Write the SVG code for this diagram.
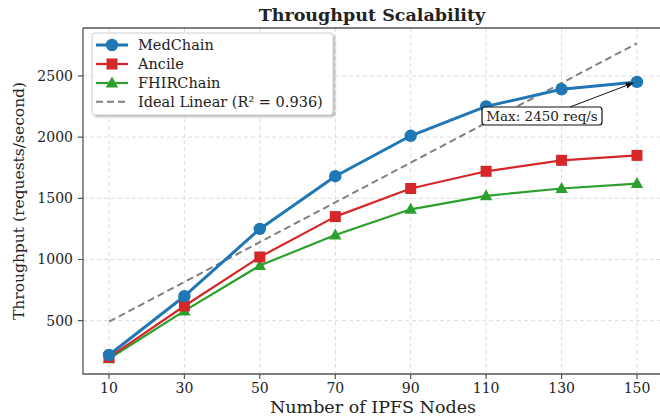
<svg xmlns="http://www.w3.org/2000/svg" width="660" height="417" viewBox="0 0 660 417">
<defs>
<style>
text{font-family:"DejaVu Serif","Liberation Serif",serif;fill:#222}
.grid{stroke:#dcdcdc;stroke-width:1;stroke-dasharray:4,3;fill:none}
.spine{stroke:#555;stroke-width:1.3;fill:none}
.tick{stroke:#555;stroke-width:1.2}
.tl{font-size:14px}
.med{stroke:#1f77b4;stroke-width:3;fill:none;stroke-linejoin:round}
.anc{stroke:#d62728;stroke-width:2.2;fill:none;stroke-linejoin:round}
.fhir{stroke:#2ca02c;stroke-width:2.2;fill:none;stroke-linejoin:round}
.ideal{stroke:#808080;stroke-width:2;stroke-dasharray:7,4;fill:none}
.lg{font-size:14.5px}
</style>
<circle id="mc" r="6.2" fill="#1f77b4"/>
<rect id="ms" x="-5.5" y="-5.5" width="11" height="11" fill="#d62728"/>
<polygon id="mt" points="0,-6.5 6.2,4.5 -6.2,4.5" fill="#2ca02c"/>
<marker id="arr" viewBox="0 0 10 10" refX="9" refY="5" markerWidth="8" markerHeight="8" markerUnits="userSpaceOnUse" orient="auto">
<path d="M0,1 L10,5 L0,9 z" fill="#111"/>
</marker>
<filter id="sh" x="-10%" y="-10%" width="130%" height="140%"><feGaussianBlur stdDeviation="0.8"/></filter>
</defs>
<rect width="660" height="417" fill="#fff"/>
<g id="title"><text x="372" y="21" font-size="17.5" font-weight="bold" text-anchor="middle" fill="#111">Throughput Scalability</text></g>
<g id="grid">
<path class="grid" d="M109,28V374M184.4,28V374M259.8,28V374M335.3,28V374M410.7,28V374M486.1,28V374M561.6,28V374M637,28V374"/>
<path class="grid" d="M83,320.7H660M83,259.5H660M83,198.3H660M83,137.1H660M83,75.9H660"/>
</g>
<g id="axes">
<path class="spine" d="M83,28V374H660M83,28H660"/>
<path class="tick" d="M78,320.7H83M78,259.5H83M78,198.3H83M78,137.1H83M78,75.9H83"/>
<path class="tick" d="M109,374v5M184.4,374v5M259.8,374v5M335.3,374v5M410.7,374v5M486.1,374v5M561.6,374v5M637,374v5"/>
<g class="tl" text-anchor="end">
<text x="73" y="325.5">500</text><text x="73" y="264.3">1000</text><text x="73" y="203.1">1500</text><text x="73" y="141.9">2000</text><text x="73" y="80.7">2500</text>
</g>
<g class="tl" text-anchor="middle">
<text x="109" y="393">10</text><text x="184.4" y="393">30</text><text x="259.8" y="393">50</text><text x="335.3" y="393">70</text><text x="410.7" y="393">90</text><text x="486.1" y="393">110</text><text x="561.6" y="393">130</text><text x="637" y="393">150</text>
</g>
<text x="373" y="413" font-size="17.5" text-anchor="middle">Number of IPFS Nodes</text>
<text x="24" y="201" font-size="15.5" text-anchor="middle" transform="rotate(-90 24 201)">Throughput (requests/second)</text>
</g>
<g id="connectors">
<path class="ideal" d="M109,321.7L637,43.3"/>
<path class="fhir" d="M109,358.7L184.4,310.9L259.8,265.6L335.3,235L410.7,209.3L486.1,195.8L561.6,188.5L637,183.6"/>
<path class="anc" d="M109,357.4L184.4,306L259.8,257L335.3,216.6L410.7,188.5L486.1,171.3L561.6,160.3L637,155.4"/>
<path class="med" d="M109,355L184.4,296.2L259.8,228.9L335.3,176.2L410.7,135.8L486.1,106.4L561.6,89.3L637,81.9"/>
</g>
<g id="fhirchain">
<use href="#mt" x="109" y="358.7"/><use href="#mt" x="184.4" y="310.9"/><use href="#mt" x="259.8" y="265.6"/><use href="#mt" x="335.3" y="235"/><use href="#mt" x="410.7" y="209.3"/><use href="#mt" x="486.1" y="195.8"/><use href="#mt" x="561.6" y="188.5"/><use href="#mt" x="637" y="183.6"/>
</g>
<g id="ancile">
<use href="#ms" x="109" y="357.4"/><use href="#ms" x="184.4" y="306"/><use href="#ms" x="259.8" y="257"/><use href="#ms" x="335.3" y="216.6"/><use href="#ms" x="410.7" y="188.5"/><use href="#ms" x="486.1" y="171.3"/><use href="#ms" x="561.6" y="160.3"/><use href="#ms" x="637" y="155.4"/>
</g>
<g id="medchain">
<use href="#mc" x="109" y="355"/><use href="#mc" x="184.4" y="296.2"/><use href="#mc" x="259.8" y="228.9"/><use href="#mc" x="335.3" y="176.2"/><use href="#mc" x="410.7" y="135.8"/><use href="#mc" x="486.1" y="106.4"/><use href="#mc" x="561.6" y="89.3"/><use href="#mc" x="637" y="81.9"/>
</g>
<g id="annotation">
<path d="M570,107L633,83" stroke="#111" stroke-width="1" fill="none" marker-end="url(#arr)"/>
<rect x="482" y="107" width="120" height="18" rx="3" fill="#fff" stroke="#111" stroke-width="1.2"/>
<text x="542" y="120.5" font-size="13.5" text-anchor="middle" fill="#111">Max: 2450 req/s</text>
</g>
<g id="legend">
<rect x="94" y="35" width="241" height="82" rx="3" fill="#888" opacity="0.6" filter="url(#sh)"/>
<rect x="92" y="33" width="241" height="82" rx="3" fill="#fff" stroke="#ccc" stroke-width="1"/>
<path class="med" d="M96,45H128"/><use href="#mc" x="112" y="45"/>
<path class="anc" d="M96,64H128"/><use href="#ms" x="112" y="64"/>
<path class="fhir" d="M96,83H128"/><use href="#mt" x="112" y="83"/>
<path class="ideal" d="M96,101.7H128" stroke-width="1.5" stroke-dasharray="5.5,2.5"/>
<g class="lg"><text x="138" y="50">MedChain</text><text x="138" y="69">Ancile</text><text x="138" y="88">FHIRChain</text><text x="138" y="107">Ideal Linear (R² = 0.936)</text></g>
</g>
</svg>
